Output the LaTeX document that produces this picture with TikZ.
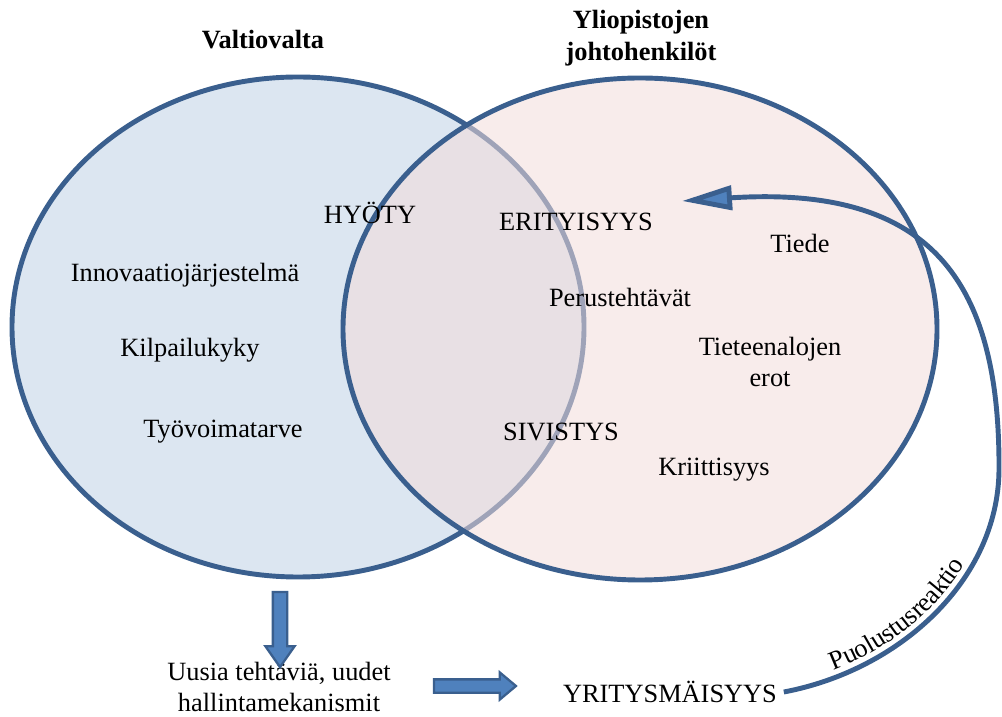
\documentclass[tikz,border=0pt]{standalone}
\usepackage{fontspec}
\setmainfont{Liberation Serif}
\usetikzlibrary{arrows.meta,decorations.text,shapes.arrows,positioning}
\definecolor{MyLine}{HTML}{3A5F8E}
\definecolor{MyArrow}{HTML}{4F81BD}
\definecolor{MyBlue}{HTML}{DCE6F1}
\definecolor{MyRose}{HTML}{F2DCDB}
\def\leftset{(5.96,7.78) ellipse (5.72cm and 5cm)}
\def\rightset{(12.8,7.74) ellipse (5.94cm and 5.02cm)}
\tikzset{%
  term/.style={font=\fontsize{15}{18}\selectfont, align=center},
  title/.style={term, font=\fontsize{15}{18}\selectfont\bfseries},
  link/.style={-{Triangle[length=1cm,width=0.48cm,fill=MyArrow]}, line width=2.8pt, draw=MyLine},
  block arrow/.style={single arrow, draw=MyLine, fill=MyArrow, line width=1.3pt,
    inner xsep=0pt, inner ysep=0.12cm},
  drop arrow/.style={block arrow, rotate=-90, minimum height=1.5cm,
    single arrow head extend=0.15cm, single arrow tip angle=70},
  push arrow/.style={block arrow, minimum height=1.64cm, inner ysep=0.11cm,
    single arrow head extend=0.14cm, single arrow tip angle=80}
}

\begin{document}
\begin{tikzpicture}[very thick]
 \useasboundingbox (0,0) rectangle (20.04,14.32);

 % valtio, yliopistot
 \fill[MyBlue] \leftset;
 \draw[MyLine, line width=2.8pt] \leftset;
 \fill[MyRose, fill opacity=0.55] \rightset;
 \draw[MyLine, line width=2.8pt] \rightset;

 \node[title] (valtio) at (5.26,13.52) {Valtiovalta};
 \node[title] (yliopisto) at (12.82,13.56) {Yliopistojen\\johtohenkilöt};

 \node[term] (hyoty) at (7.4,10.06) {HYÖTY};
 \node[term] (innovaatio) at (3.7,8.82) {Innovaatiojärjestelmä};
 \node[term] (kilpailu) at (3.8,7.32) {Kilpailukyky};
 \node[term] (tyovoima) at (4.46,5.68) {Työvoimatarve};

 \node[term] (erityis) at (11.52,9.88) {ERITYISYYS};
 \node[term] (perus) at (12.4,8.38) {Perustehtävät};
 \node[term] (sivistys) at (11.22,5.68) {SIVISTYS};
 \node[term] (tiede) at (16,9.46) {Tiede};
 \node[term] (erot) at (15.4,7.08) {Tieteenalojen\\erot};
 \node[term] (kriitti) at (14.28,4.92) {Kriittisyys};

 \node[term] (uusia) at (5.58,0.58) {Uusia tehtäviä, uudet\\hallintamekanismit};
 \node[term] (yritys) at (13.4,0.48) {YRITYSMÄISYYS};

 \node[drop arrow] (alas) at (5.6,1.83) {};
 \node[push arrow] (eteen) at (9.42,0.6) {};

 % puolustusreaktio
 \coordinate (kaari) at (19.98,4.92);
 \coordinate (kohde) at (13.64,10.3);
 \draw[link] (yritys.east) .. controls (18,0.92) and (19.96,2.72) .. (kaari)
   .. controls (20.0,8.72) and (18.6,10.62) .. (kohde);
 \path[decorate, decoration={text along path, raise=4pt, text align={left indent=1.1cm},
   text={|\fontsize{15}{18}\selectfont|Puolustusreaktio}}]
   (yritys.east) .. controls (18,0.92) and (19.96,2.72) .. (kaari);

\end{tikzpicture}
\end{document}
